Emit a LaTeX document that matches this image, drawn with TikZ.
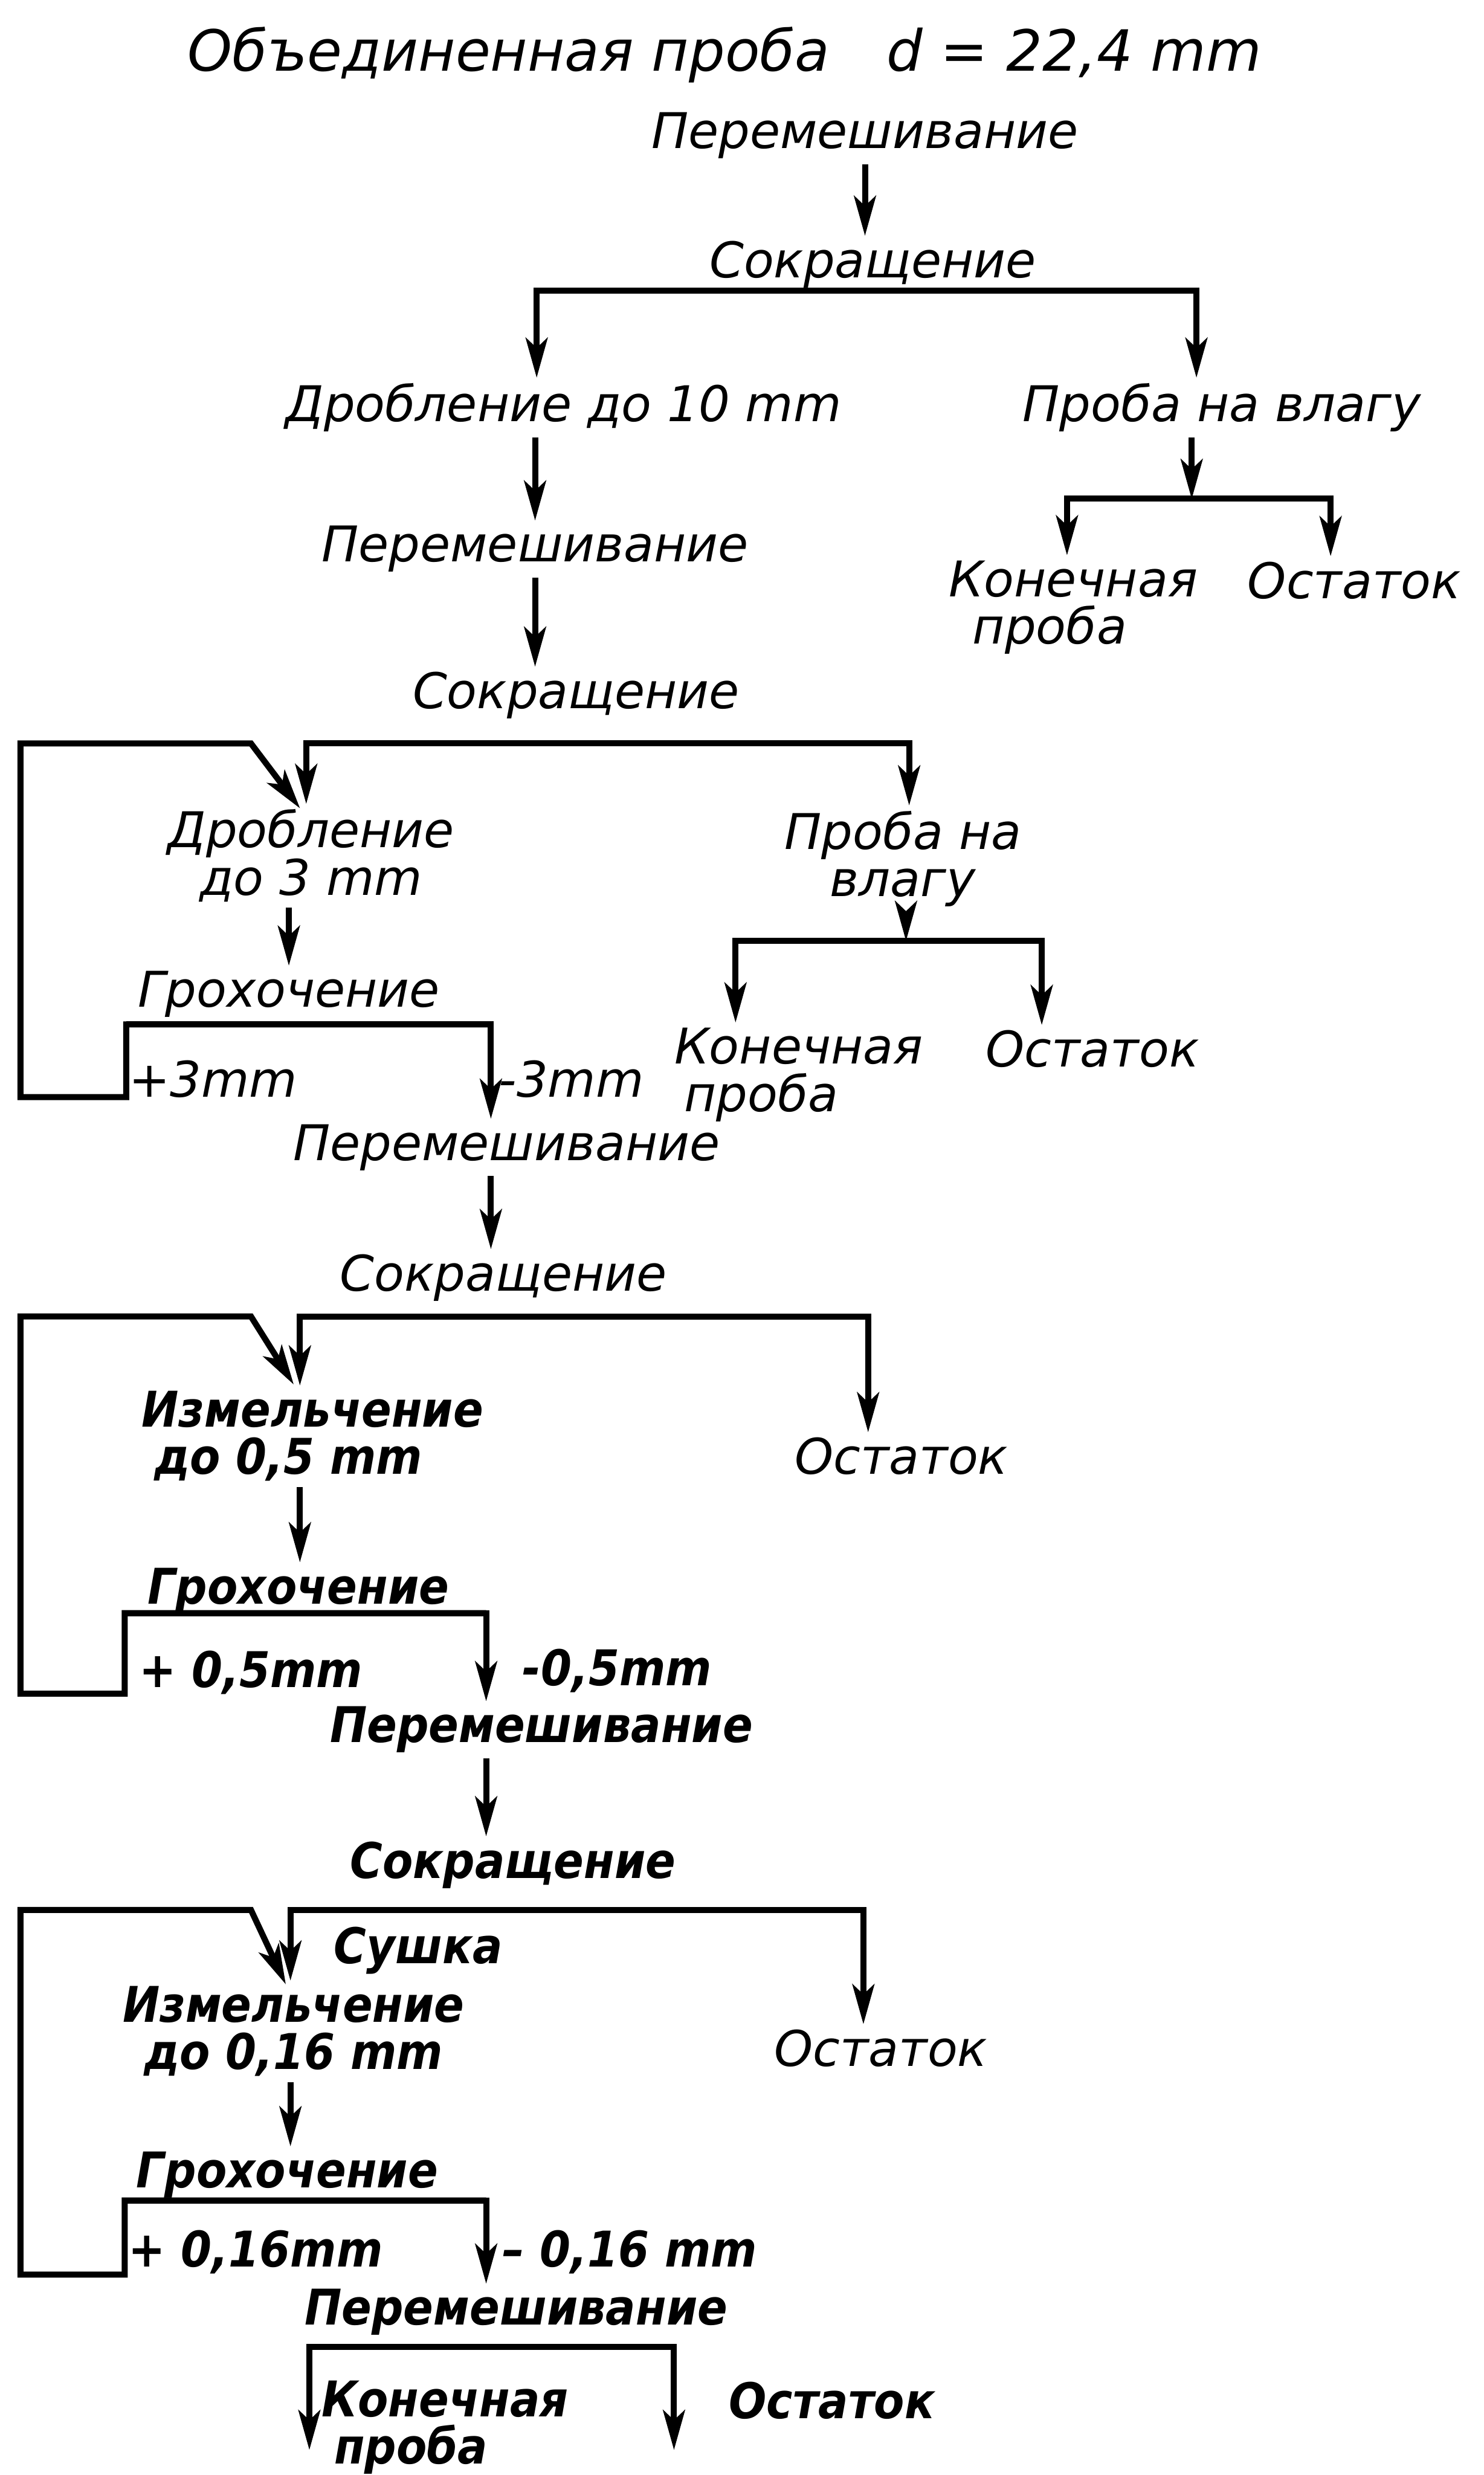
\documentclass[tikz,border=0pt]{standalone}
\usepackage{fontspec}
\setmainfont{DejaVu Sans}
\newfontfamily\heavy{DejaVu Sans}[FakeStretch=0.9]
\usetikzlibrary{arrows.meta}
\newcommand\tightls{\lineskiplimit=-100pt\relax}
\begin{document}
\begin{tikzpicture}[x=0.02929cm,y=-0.02929cm,
 lbl/.style={inner sep=0pt,outer sep=3pt,anchor=base,font={\fontsize{26}{24}\selectfont\itshape}},
 lbltwo/.style={lbl,font={\fontsize{26}{#1}\selectfont\itshape\tightls}},
 hvy/.style={font={\fontsize{26}{24}\selectfont\heavy\bfseries\itshape}},
 hvytwo/.style={font={\fontsize{26}{#1}\selectfont\heavy\bfseries\itshape\tightls}},
 ln/.style={line width=3.2pt,line join=miter},
 arr/.style={ln,-{Stealth[length=7.5mm,width=4.2mm,inset=2mm,line width=0.4pt]}}]
\useasboundingbox (0,0) rectangle (940,1568);
% ---------- nodes ----------
\node[lbl,font={\fontsize{30}{34}\selectfont\itshape}] (title) at (459,45) {Объединенная проба\quad d = 22,4 mm};
\node[lbl] (per1) at (548,94) {Перемешивание};
\node[lbl] (sok1) at (553,176) {Сокращение};
\node[lbl] (drob10) at (357,267) {Дробление до 10 mm};
\node[lbl] (probav1) at (774,267) {Проба на влагу};
\node[lbl] (per2) at (339,356) {Перемешивание};
\node[lbltwo=25pt,align=left] (kon1) at (680,408) {Конечная\\\hspace*{0.44cm}проба};
\node[lbl] (ost1) at (858,379) {Остаток};
\node[lbl] (sok2) at (365,449) {Сокращение};
\node[lbltwo=25pt,align=center] (drob3) at (197,567) {Дробление\\до 3 mm};
\node[lbl] (gro1) at (183,638) {Грохочение};
\node[lbl] (plus3) at (135,695) {+3mm};
\node[lbl] (minus3) at (362,695) {-3mm};
\node[lbltwo=25pt,align=center] (probav2) at (572,568) {Проба на\\влагу};
\node[lbltwo=25pt,align=left] (kon2) at (506,704) {Конечная\\\hspace*{0.18cm}проба};
\node[lbl] (ost2) at (692,676) {Остаток};
\node[lbl] (per3) at (321,735) {Перемешивание};
\node[lbl] (sok3) at (319,818) {Сокращение};
\node[lbl,hvytwo=25pt,align=center] (izm05) at (198,934) {Измельчение\\до 0,5 mm\hspace*{0.9cm}};
\node[lbl] (ost3) at (571,934) {Остаток};
\node[lbl,hvy] (gro2) at (189,1016) {Грохочение};
\node[lbl,hvy] (plus05) at (159,1069) {+ 0,5mm};
\node[lbl,hvy] (minus05) at (391,1068) {-0,5mm};
\node[lbl,hvy] (per4) at (343,1104) {Перемешивание};
\node[lbl,hvy] (sok4) at (325,1190) {Сокращение};
\node[lbl,hvy] (sushka) at (265,1244) {Сушка};
\node[lbl,hvytwo=25pt,align=center] (izm016) at (186,1311) {Измельчение\\до 0,16 mm};
\node[lbl] (ost4) at (558,1309) {Остаток};
\node[lbl,hvy] (gro3) at (182,1386) {Грохочение};
\node[lbl,hvy] (plus016) at (162,1436) {+ 0,16mm};
\node[lbl,hvy] (minus016) at (399,1436) {– 0,16 mm};
\node[lbl,hvy] (per5) at (327,1473) {Перемешивание};
\node[lbl,hvytwo=25pt,align=left] (kon3) at (282,1561) {Конечная\\\hspace*{0.23cm}проба};
\node[lbl,hvy] (ost5) at (527,1532) {Остаток};
% ---------- coordinates ----------
\coordinate (j1l) at (340,184); \coordinate (j1r) at (758,184);
\coordinate (j2) at (755,316); \coordinate (j2l) at (676,316); \coordinate (j2r) at (843,316);
\coordinate (j3l) at (194,471); \coordinate (j3r) at (576,471);
\coordinate (r2) at (159,471); \coordinate (r2tl) at (13,471); \coordinate (r2bl) at (13,695);
\coordinate (r2br) at (80,695); \coordinate (g1l) at (80,649); \coordinate (g1r) at (311,649);
\coordinate (r2tip) at (190,512);
\coordinate (j4) at (574,596); \coordinate (j4l) at (466,596); \coordinate (j4r) at (660,596);
\coordinate (j5l) at (190,834); \coordinate (j5r) at (550,834);
\coordinate (r3) at (159,834); \coordinate (r3tl) at (13,834); \coordinate (r3bl) at (13,1073);
\coordinate (r3br) at (79,1073); \coordinate (g2l) at (79,1022); \coordinate (g2r) at (308,1022);
\coordinate (r3tip) at (186,877);
\coordinate (j6l) at (184,1210); \coordinate (j6r) at (547,1210);
\coordinate (r4) at (159,1210); \coordinate (r4tl) at (13,1210); \coordinate (r4bl) at (13,1441);
\coordinate (r4br) at (79,1441); \coordinate (g3l) at (79,1394); \coordinate (g3r) at (308,1394);
\coordinate (r4tip) at (181,1257);
\coordinate (j7l) at (196,1487); \coordinate (j7r) at (427,1487);
\coordinate (e1) at (196,1552); \coordinate (e2) at (427,1552);
% ---------- connectors ----------
\draw[arr] (per1.south) -- (per1.south |- sok1.north);
\draw[arr] (j1r) -- (j1l) -- (j1l |- drob10.north);
\draw[arr] (j1l) -- (j1r) -- (j1r |- probav1.north);
\draw[arr] (drob10.south -| per2) -- (per2.north);
\draw[arr] (per2.south) -- (per2.south |- sok2.north);
\draw[arr] (probav1.south -| j2) -- (j2);
\draw[arr] (j2r) -- (j2l) -- (j2l |- kon1.north);
\draw[arr] (j2l) -- (j2r) -- (j2r |- ost1.north);
% block 2
\draw[arr] (j3r) -- (j3l) -- (j3l |- drob3.north);
\draw[arr] (j3l) -- (j3r) -- (j3r |- probav2.north);
\draw[arr] (g1r) -- (g1l) -- (r2br) -- (r2bl) -- (r2tl) -- (r2) -- (r2tip);
\draw[arr] (g1l) -- (g1r) -- (g1r |- per3.north);
\draw[arr] (drob3.south -| gro1) -- (gro1.north);
\draw[arr] (probav2.south -| j4) -- (j4);
\draw[arr] (j4r) -- (j4l) -- (j4l |- kon2.north);
\draw[arr] (j4l) -- (j4r) -- (j4r |- ost2.north);
\draw[arr] (per3.south -| g1r) -- (sok3.north -| g1r);
% block 3
\draw[arr] (j5r) -- (j5l) -- (j5l |- izm05.north);
\draw[arr] (j5l) -- (j5r) -- (j5r |- ost3.north);
\draw[arr] (g2r) -- (g2l) -- (r3br) -- (r3bl) -- (r3tl) -- (r3) -- (r3tip);
\draw[arr] (g2l) -- (g2r) -- (g2r |- per4.north);
\draw[arr] (izm05.south -| j5l) -- (gro2.north -| j5l);
\draw[arr] (per4.south -| g2r) -- (sok4.north -| g2r);
% block 4
\draw[arr] (j6r) -- (j6l) -- (j6l |- izm016.north);
\draw[arr] (j6l) -- (j6r) -- (j6r |- ost4.north);
\draw[arr] (g3r) -- (g3l) -- (r4br) -- (r4bl) -- (r4tl) -- (r4) -- (r4tip);
\draw[arr] (g3l) -- (g3r) -- (g3r |- per5.north);
\draw[arr] (izm016.south -| j6l) -- (gro3.north -| j6l);
% final split
\draw[arr] (j7r) -- (j7l) -- (e1);
\draw[arr] (j7l) -- (j7r) -- (e2);
\end{tikzpicture}
\end{document}
